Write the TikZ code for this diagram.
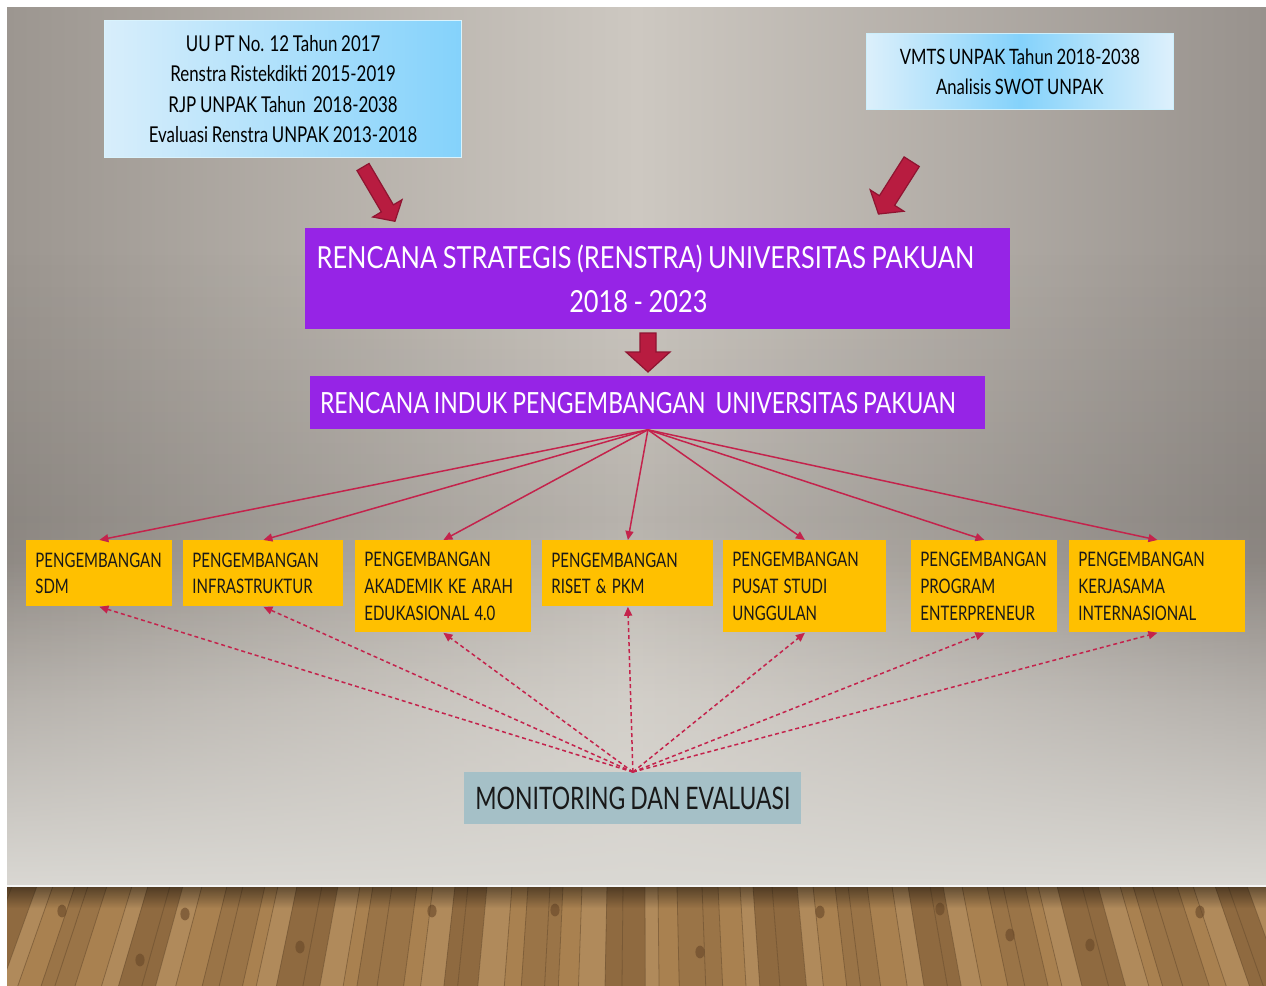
\documentclass[tikz,border=0pt]{standalone}
\usepackage{fontspec}
\setmainfont[FakeStretch=0.78,WordSpace=0.85]{Lato}
\newfontfamily\fTitle[FakeStretch=0.835,WordSpace=0.85]{Lato}
\newfontfamily\fRip[FakeStretch=0.785,WordSpace=0.85]{Lato}
\newfontfamily\fMe[FakeStretch=0.74,WordSpace=0.85]{Lato}
\newfontfamily\fY[FakeStretch=0.75,WordSpace=0.6]{Lato}
\newfontfamily\fTL[FakeStretch=0.775,WordSpace=0.85]{Lato}
\newfontfamily\fTR[FakeStretch=0.785,WordSpace=0.85]{Lato}
\newcommand\yws{\hspace{2.6pt}}
\usetikzlibrary{arrows.meta,fadings}
\definecolor{bgL}{HTML}{9C9690}
\definecolor{bgM}{HTML}{CDC8C1}
\definecolor{bgR}{HTML}{98928D}
\definecolor{bgB}{HTML}{DAD8D3}
\definecolor{wood0}{HTML}{B08A5B}
\definecolor{wood1}{HTML}{C7A576}
\definecolor{wood2}{HTML}{9A7447}
\definecolor{wood3}{HTML}{D1B386}
\definecolor{wood4}{HTML}{A98150}
\definecolor{wood5}{HTML}{BE9A69}
\definecolor{wood6}{HTML}{8F6A40}
\definecolor{wood7}{HTML}{C9AC7E}
\definecolor{woodline}{HTML}{5E4428}
\definecolor{knot}{HTML}{6B4A2A}
\definecolor{purp}{HTML}{9624E6}
\definecolor{boxyellow}{HTML}{FFC000}
\definecolor{mebox}{HTML}{A5C0C7}
\definecolor{arrfill}{HTML}{B81C40}
\definecolor{arrdraw}{HTML}{8F1431}
\definecolor{linkred}{HTML}{C4234C}
\definecolor{blueA}{HTML}{D8EEFB}
\definecolor{blueB}{HTML}{84D2FB}
\newcommand\blockarr[7]{%
\begin{scope}[shift={(#1,#2)}, rotate=#3]
\filldraw[barrow] (0,-#5) -- ({#4-#7},-#5) -- ({#4-#7},-#6) -- (#4,0) -- ({#4-#7},#6) -- ({#4-#7},#5) -- (0,#5) -- cycle;
\end{scope}}
\begin{document}
\begin{tikzpicture}[x=0.5pt,y=-0.5pt,
  barrow/.style={fill=arrfill, draw=arrdraw, line width=0.6pt, line join=miter},
  ybox/.style={fill=boxyellow, anchor=north west, inner xsep=4.5pt, inner ysep=0pt, align=left, text=black!90, font=\fY\fontsize{10}{13.3}\selectfont},
  pbox/.style={fill=purp, anchor=north west, inner sep=0pt, align=center, text=white},
  link/.style={draw=linkred, line width=0.75pt, -{Triangle[length=4.5pt,width=4pt]}},
  dlink/.style={link, dash pattern=on 2pt off 1.5pt}]
\useasboundingbox (0,0) rectangle (1266,986);
% background
\fill[white] (0,0) rectangle (1266,986);
\shade[left color=bgL, right color=bgR, middle color=bgM] (7,7) rectangle (1266,886);
\fill[black, opacity=0.10, path fading=north] (7,250) rectangle (1266,520);
\fill[black, opacity=0.10, path fading=south] (7,520) rectangle (1266,700);
\fill[bgB, path fading=north] (7,560) rectangle (1266,886);
% floor
\begin{scope}
\clip (7,886) rectangle (1266,986);
\fill[wood0] (7,886) rectangle (1266,986);
\gdef\xa{-20}
\foreach \i in {0,...,90}{
  \pgfmathtruncatemacro\c{mod(\i*5+\i*\i,8)}
  \pgfmathsetmacro\xb{\xa+13+mod(\i*7,5)*3}
  \pgfmathsetmacro\xc{640+(\xb-640)*1.06}
  \pgfmathsetmacro\xd{640+(\xa-640)*1.06}
  \fill[wood\c] (\xa,886) -- (\xb,886) -- (\xc,986) -- (\xd,986) -- cycle;
  \draw[woodline, line width=0.4pt, opacity=0.5] (\xa,886) -- (\xd,986);
  \global\let\xa\xb
}
\foreach \kx/\ky in {62/911,185/914,432/911,555/910,820/912,940/909,1200/912,1090/945,300/947,700/952,140/960,1010/935}{
  \fill[knot, opacity=0.65] (\kx,\ky) ellipse (2.3pt and 3.2pt);
}
\fill[black, opacity=0.45, path fading=south] (7,886) rectangle (1266,908);
\end{scope}
\draw[white!92!gray, line width=0.8pt] (7,886) -- (1266,886);
% top sources
\node[anchor=north west, minimum width=178.5pt, minimum height=68.5pt, inner sep=0pt,
  left color=blueA, right color=blueB, draw=white!85!cyan, line width=0.6pt,
  align=center, font=\fTL\fontsize{10.9}{15.3}\selectfont] (src1) at (104,20)
  {UU PT No. 12 Tahun 2017\\Renstra Ristekdikti 2015-2019\\RJP UNPAK Tahun~~2018-2038\\Evaluasi Renstra UNPAK 2013-2018};
\node[anchor=north west, minimum width=153.5pt, minimum height=38pt, inner sep=0pt,
  left color=blueA!90!white, right color=blueA!85!white, middle color=blueB, draw=white!80!cyan, line width=0.4pt,
  align=center, font=\fTR\fontsize{10.6}{15}\selectfont] (src2) at (866,33)
  {VMTS UNPAK Tahun 2018-2038\\Analisis SWOT UNPAK};
% block arrows
\blockarr{363}{167}{-59.5}{63}{7}{17}{15}
\blockarr{911.7}{161.7}{-122.4}{62}{9}{20}{16}
\blockarr{648}{333}{-90}{39}{8}{22}{20}
% purple boxes
\node[pbox, minimum width=352.5pt, minimum height=50.5pt, font=\fTitle\fontsize{15.2}{22}\selectfont] (rs) at (305,228)
  {RENCANA STRATEGIS (RENSTRA) UNIVERSITAS PAKUAN\hspace*{12.5pt}\\2018 - 2023\hspace*{19.5pt}};
\node[pbox, minimum width=337.5pt, minimum height=26.5pt, font=\fRip\fontsize{14.6}{17}\selectfont] (rip) at (310,376)
  {RENCANA INDUK PENGEMBANGAN~~UNIVERSITAS PAKUAN\hspace*{10pt}};
% yellow boxes
\node[ybox, text width=64pt, minimum height=33pt] (y1) at (26,540) {PENGEMBANGAN\\SDM};
\node[ybox, text width=71pt, minimum height=33pt] (y2) at (183,540) {PENGEMBANGAN\\INFRASTRUKTUR};
\node[ybox, text width=79pt, minimum height=46pt] (y3) at (355,540) {PENGEMBANGAN\\AKADEMIK\yws KE\yws ARAH\\EDUKASIONAL\yws 4.0};
\node[ybox, text width=76.5pt, minimum height=33pt] (y4) at (542,540) {PENGEMBANGAN\\RISET\yws\&\yws PKM};
\node[ybox, text width=72.5pt, minimum height=46pt] (y5) at (723,540) {PENGEMBANGAN\\PUSAT\yws STUDI\\UNGGULAN};
\node[ybox, text width=64pt, minimum height=46pt] (y6) at (911,540) {PENGEMBANGAN\\PROGRAM\\ENTERPRENEUR};
\node[ybox, text width=79pt, minimum height=46pt] (y7) at (1069,540) {PENGEMBANGAN\\KERJASAMA\\INTERNASIONAL};
% monitoring
\node[fill=mebox, anchor=north west, inner sep=0pt, minimum width=168.5pt, minimum height=26pt,
  font=\fMe\fontsize{15.5}{18}\selectfont, text=black!90] (me) at (464,772) {MONITORING DAN EVALUASI};
% connectors
\foreach \n in {y1,y2,y3,y4,y5,y6,y7}{
  \draw[link] (rip.south) -- (\n.north);
  \draw[dlink] (me.north) -- (\n.south);
}
\end{tikzpicture}
\end{document}
